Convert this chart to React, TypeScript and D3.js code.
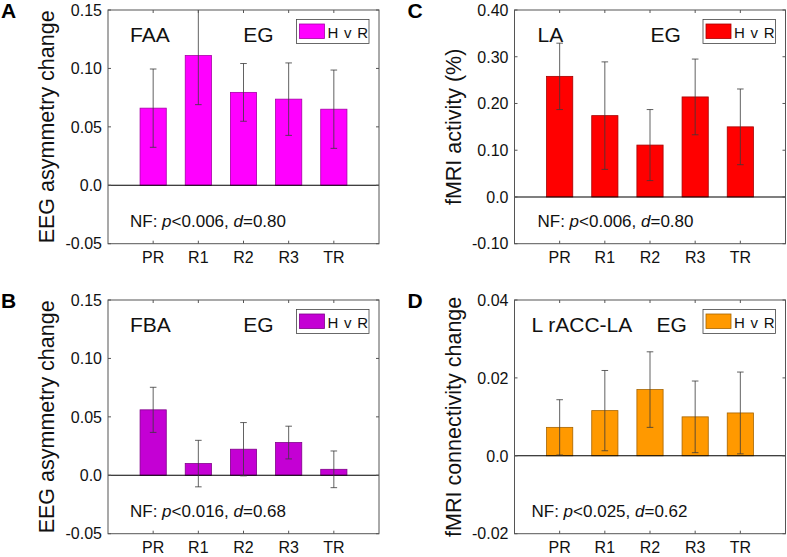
import React from "react";
import * as d3 from "d3";

const categories = ["PR", "R1", "R2", "R3", "TR"];

// Panel A: FAA
const faaMean = [0.066, 0.111, 0.0795, 0.0737, 0.0651];
const faaErr = [0.0335, 0.042, 0.0247, 0.031, 0.0335];
const faaTicks = [-0.05, 0, 0.05, 0.1, 0.15];
const faaTickLabels = ["-0.05", "0.0", "0.05", "0.10", "0.15"];

// Panel B: FBA
const fbaMean = [0.056, 0.01, 0.0223, 0.028, 0.0051];
const fbaErr = [0.0193, 0.0199, 0.0228, 0.014, 0.0157];
const fbaTicks = [-0.05, 0, 0.05, 0.1, 0.15];
const fbaTickLabels = ["-0.05", "0.0", "0.05", "0.10", "0.15"];

// Panel C: LA activity
const laMean = [0.258, 0.174, 0.111, 0.214, 0.15];
const laErr = [0.071, 0.115, 0.076, 0.081, 0.081];
const laTicks = [-0.1, 0, 0.1, 0.2, 0.3, 0.4];
const laTickLabels = ["-0.10", "0.0", "0.10", "0.20", "0.30", "0.40"];

// Panel D: L rACC-LA connectivity
const connMean = [0.0073, 0.0116, 0.017, 0.01, 0.011];
const connErr = [0.0071, 0.0103, 0.0097, 0.0092, 0.0105];
const connTicks = [-0.02, 0, 0.02, 0.04];
const connTickLabels = ["-0.02", "0.0", "0.02", "0.04"];

const FONT = "'Liberation Sans', Arial, Helvetica, sans-serif";

type PanelProps = {
  id: string;
  letter: string;
  x0: number;
  y0: number;
  w: number;
  h: number;
  mean: number[];
  err: number[];
  ticks: number[];
  tickLabels: string[];
  color: string;
  ylabel: string;
  title: string;
  titleDx: number;
  eg: string;
  egDx: number;
  stats: [string, string, string, string];
  statsDx: number;
};

function Panel(p: PanelProps) {
  const x = d3.scaleLinear().domain([0, categories.length + 1]).range([p.x0, p.x0 + p.w]);
  const y = d3
    .scaleLinear()
    .domain([p.ticks[0], p.ticks[p.ticks.length - 1]])
    .range([p.y0 + p.h, p.y0]);
  const bw = x(0.58) - x(0);
  const cap = 3.3;
  const edge = d3.color(p.color)!.darker(1.2).formatHex();
  const tickLen = 3;
  const clipId = "clip-" + p.id;
  return (
    <g>
      <defs>
        <clipPath id={clipId}>
          <rect x={p.x0} y={p.y0} width={p.w} height={p.h} />
        </clipPath>
      </defs>
      <rect x={p.x0} y={p.y0} width={p.w} height={p.h} fill="#fff" />
      <g clipPath={`url(#${clipId})`}>
        {categories.map((c, i) => {
          const cx = x(i + 1);
          const v = p.mean[i];
          return (
            <rect
              key={"b" + c}
              x={cx - bw / 2}
              y={y(Math.max(0, v))}
              width={bw}
              height={Math.abs(y(v) - y(0))}
              fill={p.color}
              stroke={edge}
              strokeWidth={0.8}
            />
          );
        })}
        <line x1={p.x0} x2={p.x0 + p.w} y1={y(0)} y2={y(0)} stroke="#000" strokeWidth={1.1} />
        {categories.map((c, i) => {
          const cx = x(i + 1);
          const lo = y(p.mean[i] - p.err[i]);
          const hi = y(p.mean[i] + p.err[i]);
          return (
            <g key={"e" + c} stroke="#3a3a3a" strokeWidth={0.8}>
              <line x1={cx} x2={cx} y1={lo} y2={hi} />
              <line x1={cx - cap} x2={cx + cap} y1={lo} y2={lo} />
              <line x1={cx - cap} x2={cx + cap} y1={hi} y2={hi} />
            </g>
          );
        })}
      </g>
      {/* ticks */}
      {p.ticks.map((t) => (
        <g key={"yt" + t} stroke="#555" strokeWidth={1}>
          <line x1={p.x0} x2={p.x0 + tickLen} y1={y(t)} y2={y(t)} />
          <line x1={p.x0 + p.w} x2={p.x0 + p.w - tickLen} y1={y(t)} y2={y(t)} />
        </g>
      ))}
      {categories.map((c, i) => (
        <g key={"xt" + c} stroke="#555" strokeWidth={1}>
          <line x1={x(i + 1)} x2={x(i + 1)} y1={p.y0 + p.h} y2={p.y0 + p.h - tickLen} />
          <line x1={x(i + 1)} x2={x(i + 1)} y1={p.y0} y2={p.y0 + tickLen} />
        </g>
      ))}
      <rect x={p.x0} y={p.y0} width={p.w} height={p.h} fill="none" stroke="#555" strokeWidth={1} />
      {/* tick labels */}
      {p.ticks.map((t, i) => (
        <text
          key={"yl" + t}
          x={p.x0 - 6}
          y={y(t)}
          dy="0.36em"
          textAnchor="end"
          fontSize={16}
          fontFamily={FONT}
          fill="#111"
        >
          {p.tickLabels[i]}
        </text>
      ))}
      {categories.map((c, i) => (
        <text
          key={"xl" + c}
          x={x(i + 1)}
          y={p.y0 + p.h + 19.5}
          textAnchor="middle"
          fontSize={16}
          fontFamily={FONT}
          fill="#111"
        >
          {c}
        </text>
      ))}
      {/* y label */}
      <text
        transform={`translate(${p.x0 - 54},${p.y0 + p.h / 2}) rotate(-90)`}
        textAnchor="middle"
        fontSize={21.5}
        fontFamily={FONT}
        fill="#111"
      >
        {p.ylabel}
      </text>
      {/* panel letter */}
      <text
        x={p.x0 - 107}
        y={p.y0 + 7.5}
        fontSize={21}
        fontWeight="bold"
        fontFamily={FONT}
        fill="#000"
      >
        {p.letter}
      </text>
      {/* title */}
      <text x={p.x0 + p.titleDx} y={p.y0 + 31.7} fontSize={21} fontFamily={FONT} fill="#111">
        {p.title}
      </text>
      <text x={p.x0 + p.egDx} y={p.y0 + 31.7} fontSize={21} fontFamily={FONT} fill="#111">
        {p.eg}
      </text>
      {/* legend */}
      <rect
        x={p.x0 + p.w - 82.5}
        y={p.y0 + 9.5}
        width={72.5}
        height={24}
        fill="#fff"
        stroke="#444"
        strokeWidth={0.8}
      />
      <rect
        x={p.x0 + p.w - 79.5}
        y={p.y0 + 14}
        width={25}
        height={14.5}
        fill={p.color}
        stroke={edge}
        strokeWidth={0.8}
      />
      <text
        x={p.x0 + p.w - 51.5}
        y={p.y0 + 27.5}
        fontSize={15}
        letterSpacing={0.8}
        fontFamily={FONT}
        fill="#111"
      >
        H v R
      </text>
      {/* stats */}
      <text x={p.x0 + p.statsDx} y={p.y0 + 216.7} fontSize={17} fontFamily={FONT} fill="#111">
        {p.stats[0]}
        <tspan fontStyle="italic">{p.stats[1]}</tspan>
        {p.stats[2]}
        <tspan fontStyle="italic">d</tspan>
        {p.stats[3]}
      </text>
    </g>
  );
}

export default function App() {
  const W = 787;
  const H = 557;
  const leftX = 108;
  const rightX = 514.5;
  const pw = 271;
  const topY = 10;
  const botY = 300;
  const ph = 233.7;
  return (
    <svg
      width={W}
      height={H}
      viewBox={`0 0 ${W} ${H}`}
      style={{ position: "absolute", left: 0, top: 0, background: "#fff" }}
    >
      <rect x={0} y={0} width={W} height={H} fill="#fff" />
      <Panel
        id="A"
        letter="A"
        x0={leftX}
        y0={topY}
        w={pw}
        h={ph}
        mean={faaMean}
        err={faaErr}
        ticks={faaTicks}
        tickLabels={faaTickLabels}
        color="#ff00ff"
        ylabel="EEG asymmetry change"
        title="FAA"
        titleDx={22}
        eg="EG"
        egDx={135.3}
        stats={["NF: ", "p", "<0.006, ", "=0.80"]}
        statsDx={22}
      />
      <Panel
        id="B"
        letter="B"
        x0={leftX}
        y0={botY}
        w={pw}
        h={ph}
        mean={fbaMean}
        err={fbaErr}
        ticks={fbaTicks}
        tickLabels={fbaTickLabels}
        color="#c400d4"
        ylabel="EEG asymmetry change"
        title="FBA"
        titleDx={22}
        eg="EG"
        egDx={135.3}
        stats={["NF: ", "p", "<0.016, ", "=0.68"]}
        statsDx={22}
      />
      <Panel
        id="C"
        letter="C"
        x0={rightX}
        y0={topY}
        w={pw}
        h={ph}
        mean={laMean}
        err={laErr}
        ticks={laTicks}
        tickLabels={laTickLabels}
        color="#ff0000"
        ylabel="fMRI activity (%)"
        title="LA"
        titleDx={23}
        eg="EG"
        egDx={136}
        stats={["NF: ", "p", "<0.006, ", "=0.80"]}
        statsDx={23}
      />
      <Panel
        id="D"
        letter="D"
        x0={rightX}
        y0={botY}
        w={pw}
        h={ph}
        mean={connMean}
        err={connErr}
        ticks={connTicks}
        tickLabels={connTickLabels}
        color="#ff9900"
        ylabel="fMRI connectivity change"
        title="L rACC-LA"
        titleDx={17}
        eg="EG"
        egDx={142}
        stats={["NF: ", "p", "<0.025, ", "=0.62"]}
        statsDx={17}
      />
    </svg>
  );
}
